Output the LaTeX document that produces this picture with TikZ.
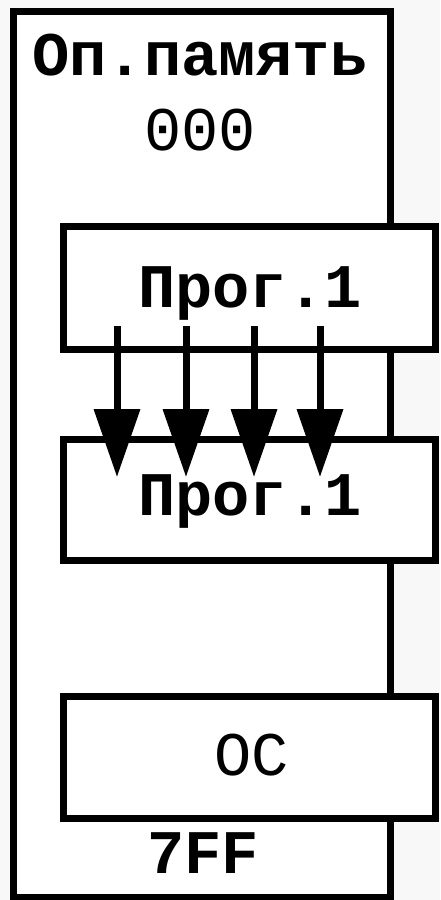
\documentclass[tikz,border=0pt]{standalone}
\usepackage{fontspec}
\setmainfont{Liberation Mono}
\newfontfamily\slab{Liberation Mono}
\usetikzlibrary{arrows.meta}
\definecolor{bggray}{RGB}{248,248,248}
\tikzset{
  box/.style={draw=black, fill=white, line width=7pt, rectangle, inner sep=0pt, outer sep=0pt},
  bigtxt/.style={font=\fontsize{62}{70}\selectfont\bfseries, anchor=base, inner sep=0pt},
  plaintxt/.style={font=\fontsize{62}{70}\selectfont, anchor=base, inner sep=0pt},
  arr/.style={line width=7pt, -{Triangle[length=68pt,width=45pt]}}
}
\begin{document}
\begin{tikzpicture}[x=1pt,y=-1pt]
\fill[bggray] (0,0) rectangle (440,900);
\useasboundingbox (0,0) rectangle (440,900);
\node[box, minimum width=377pt, minimum height=886pt] (mem) at (201.5,454) {};
\node[box, minimum width=371.5pt, minimum height=122.5pt] (p1) at (249.25,287.75) {};
\node[box, minimum width=371.5pt, minimum height=121pt] (p2) at (249.25,499.5) {};
\node[box, minimum width=371.5pt, minimum height=121.5pt] (os) at (249.25,757.25) {};
\node[bigtxt] (t1) at (200,75) {Оп.память};
\node[plaintxt] (t2) at (200,150) {000};
\node[bigtxt] (t3) at (250,307) {Прог.1};
\node[bigtxt] (t4) at (250,515) {Прог.1};
\node[plaintxt] (t5) at (252,775) {ОС};
\node[bigtxt] (t6) at (203,873) {7FF};
\foreach \i/\xx in {1/117,2/186,3/254,4/320}{
  \coordinate (s\i) at (\xx,326);
  \coordinate (e\i) at (\xx,477);
  \draw[arr] (s\i) -- (e\i);
}
\end{tikzpicture}
\end{document}
